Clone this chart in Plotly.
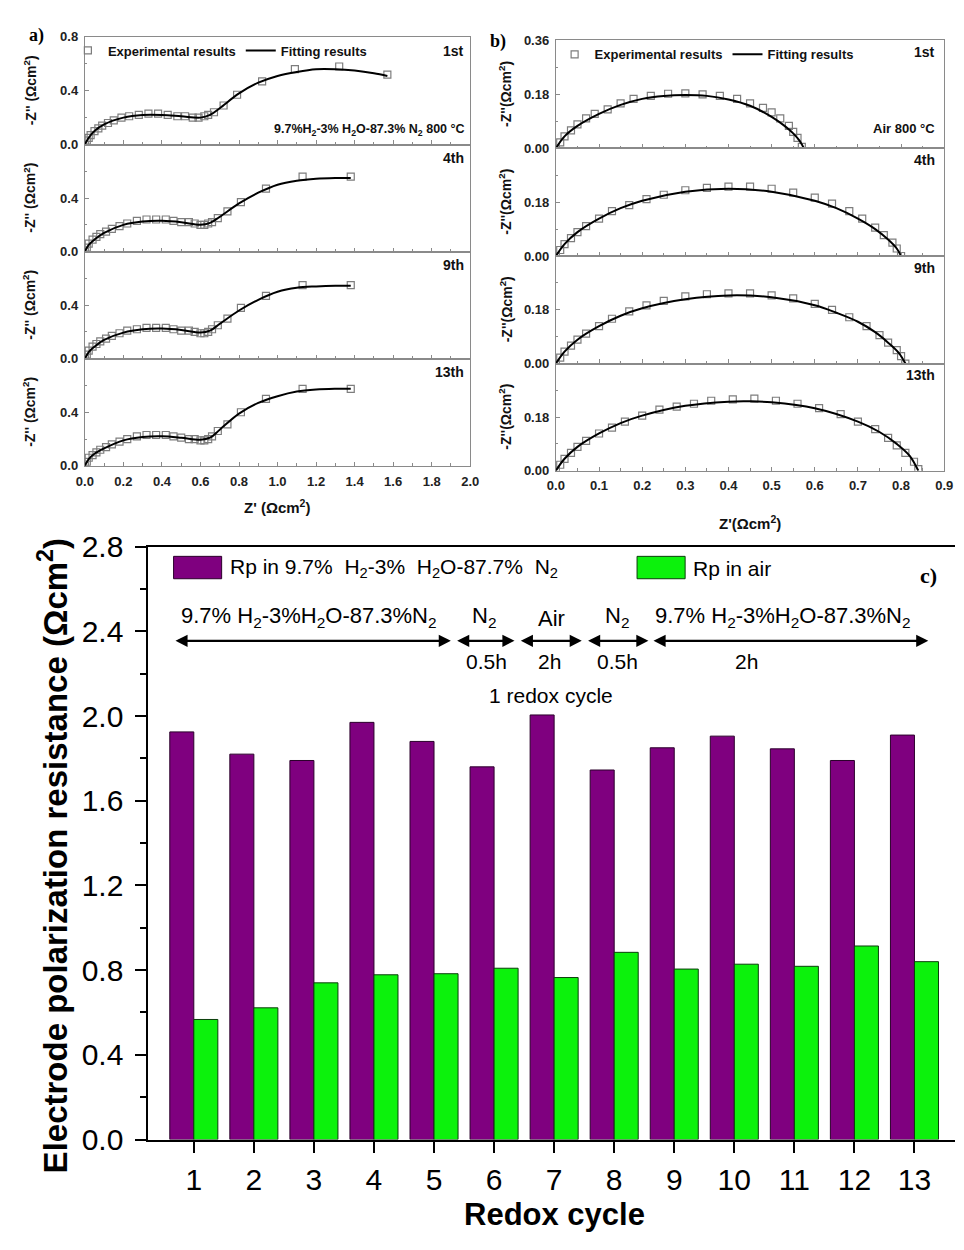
import plotly.graph_objects as go

W, H = 964, 1250
SANS = "Liberation Sans, Arial, sans-serif"
SERIF = "Liberation Serif, Times New Roman, serif"

# ---------------- panel c data ----------------
cycles = list(range(1, 14))
cycle_labels = [str(c) for c in cycles]
rp_h2 = [1.925, 1.82, 1.79, 1.97, 1.88, 1.76, 2.005, 1.745, 1.85, 1.905, 1.845, 1.79, 1.91]
rp_air = [0.567, 0.622, 0.74, 0.778, 0.783, 0.809, 0.765, 0.884, 0.805, 0.828, 0.818, 0.914, 0.84]
c_arrow_start = [0.67, 5.36, 6.42, 7.54, 8.63]
c_arrow_end = [5.28, 6.34, 7.46, 8.57, 13.23]
c_phase_labels = ["9.7% H<sub>2</sub>-3%H<sub>2</sub>O-87.3%N<sub>2</sub>", "N<sub>2</sub>", "Air",
                  "N<sub>2</sub>", "9.7% H<sub>2</sub>-3%H<sub>2</sub>O-87.3%N<sub>2</sub>"]
c_phase_x = [2.92, 5.84, 6.96, 8.05, 10.81]
c_dur_labels = ["0.5h", "2h", "0.5h", "2h"]
c_dur_x = [5.88, 6.92, 8.05, 10.21]

# ---------------- panel a data (Z', -Z'') ----------------
a_names = ["1st", "4th", "9th", "13th"]
a1_exp_x = [0.00, 0.01, 0.02, 0.03, 0.05, 0.07, 0.09, 0.12, 0.15, 0.19, 0.23, 0.28, 0.33, 0.38, 0.43, 0.48, 0.52, 0.56, 0.59, 0.62, 0.64, 0.67, 0.72, 0.79, 0.92, 1.09, 1.32, 1.57]
a1_exp_y = [0.00, 0.03, 0.05, 0.07, 0.10, 0.12, 0.14, 0.16, 0.18, 0.20, 0.21, 0.22, 0.23, 0.23, 0.22, 0.21, 0.21, 0.20, 0.20, 0.21, 0.22, 0.24, 0.29, 0.37, 0.47, 0.56, 0.58, 0.52]
a1_fit_x = [0, 0.02, 0.05, 0.1, 0.2, 0.3, 0.4, 0.5, 0.6, 0.65, 0.7, 0.8, 0.9, 1.0, 1.1, 1.2, 1.3, 1.4, 1.5, 1.57]
a1_fit_y = [0, 0.05, 0.10, 0.15, 0.20, 0.22, 0.22, 0.21, 0.20, 0.22, 0.27, 0.38, 0.46, 0.51, 0.54, 0.56, 0.56, 0.55, 0.53, 0.51]

a4_exp_x = [0.00, 0.01, 0.02, 0.04, 0.06, 0.08, 0.11, 0.14, 0.18, 0.22, 0.27, 0.32, 0.37, 0.42, 0.46, 0.50, 0.54, 0.57, 0.60, 0.62, 0.64, 0.66, 0.69, 0.74, 0.81, 0.94, 1.13, 1.38]
a4_exp_y = [0.00, 0.03, 0.06, 0.09, 0.11, 0.13, 0.15, 0.17, 0.19, 0.21, 0.23, 0.24, 0.24, 0.24, 0.23, 0.22, 0.22, 0.21, 0.20, 0.20, 0.21, 0.22, 0.25, 0.30, 0.37, 0.47, 0.56, 0.56]
a4_fit_x = [0, 0.02, 0.05, 0.1, 0.2, 0.3, 0.4, 0.5, 0.6, 0.65, 0.7, 0.8, 0.9, 1.0, 1.1, 1.2, 1.3, 1.38]
a4_fit_y = [0, 0.05, 0.09, 0.14, 0.20, 0.225, 0.23, 0.22, 0.20, 0.215, 0.26, 0.36, 0.44, 0.50, 0.53, 0.545, 0.55, 0.55]

a9_exp_x = [0.00, 0.01, 0.02, 0.04, 0.06, 0.08, 0.11, 0.14, 0.18, 0.22, 0.27, 0.32, 0.37, 0.42, 0.46, 0.50, 0.54, 0.57, 0.60, 0.62, 0.64, 0.66, 0.69, 0.74, 0.81, 0.94, 1.13, 1.38]
a9_exp_y = [0.00, 0.03, 0.06, 0.09, 0.11, 0.13, 0.15, 0.17, 0.19, 0.21, 0.22, 0.23, 0.23, 0.23, 0.22, 0.21, 0.21, 0.20, 0.19, 0.19, 0.20, 0.22, 0.25, 0.30, 0.38, 0.47, 0.55, 0.55]
a9_fit_x = [0, 0.02, 0.05, 0.1, 0.2, 0.3, 0.4, 0.5, 0.6, 0.65, 0.7, 0.8, 0.9, 1.0, 1.1, 1.2, 1.3, 1.38]
a9_fit_y = [0, 0.05, 0.09, 0.14, 0.195, 0.22, 0.225, 0.215, 0.195, 0.21, 0.26, 0.36, 0.44, 0.50, 0.53, 0.54, 0.545, 0.545]

a13_exp_x = [0.00, 0.01, 0.02, 0.04, 0.06, 0.08, 0.11, 0.14, 0.18, 0.22, 0.27, 0.32, 0.37, 0.42, 0.46, 0.50, 0.54, 0.57, 0.60, 0.62, 0.64, 0.66, 0.69, 0.74, 0.81, 0.94, 1.13, 1.38]
a13_exp_y = [0.00, 0.03, 0.06, 0.08, 0.10, 0.12, 0.14, 0.16, 0.18, 0.20, 0.22, 0.23, 0.23, 0.23, 0.22, 0.21, 0.20, 0.20, 0.19, 0.19, 0.20, 0.22, 0.26, 0.31, 0.40, 0.50, 0.575, 0.575]
a13_fit_x = [0, 0.02, 0.05, 0.1, 0.2, 0.3, 0.4, 0.5, 0.6, 0.65, 0.7, 0.8, 0.9, 1.0, 1.1, 1.2, 1.3, 1.38]
a13_fit_y = [0, 0.05, 0.09, 0.13, 0.19, 0.215, 0.22, 0.21, 0.195, 0.21, 0.27, 0.39, 0.47, 0.52, 0.555, 0.57, 0.575, 0.575]

# ---------------- panel b data (Z', -Z'') ----------------
b_names = ["1st", "4th", "9th", "13th"]
b1_exp_x = [0.00, 0.01, 0.02, 0.035, 0.05, 0.07, 0.09, 0.12, 0.15, 0.18, 0.22, 0.26, 0.30, 0.34, 0.38, 0.42, 0.45, 0.48, 0.50, 0.52, 0.54, 0.55, 0.56, 0.57]
b1_exp_y = [0.00, 0.02, 0.04, 0.06, 0.08, 0.10, 0.115, 0.13, 0.15, 0.165, 0.175, 0.182, 0.183, 0.18, 0.175, 0.165, 0.15, 0.135, 0.12, 0.10, 0.075, 0.055, 0.035, 0.005]
b1_fit_x = [0, 0.02, 0.05, 0.1, 0.15, 0.2, 0.25, 0.3, 0.35, 0.4, 0.45, 0.5, 0.53, 0.55, 0.565, 0.575]
b1_fit_y = [0, 0.04, 0.075, 0.115, 0.145, 0.165, 0.175, 0.178, 0.175, 0.163, 0.142, 0.105, 0.075, 0.05, 0.025, 0.0]

b4_exp_x = [0.00, 0.01, 0.02, 0.035, 0.05, 0.07, 0.10, 0.13, 0.17, 0.21, 0.25, 0.30, 0.35, 0.40, 0.45, 0.50, 0.55, 0.60, 0.64, 0.68, 0.71, 0.74, 0.76, 0.78, 0.79, 0.80]
b4_exp_y = [0.00, 0.02, 0.04, 0.06, 0.08, 0.10, 0.125, 0.15, 0.17, 0.19, 0.205, 0.22, 0.228, 0.232, 0.232, 0.225, 0.212, 0.195, 0.175, 0.15, 0.125, 0.095, 0.07, 0.045, 0.025, 0.0]
b4_fit_x = [0, 0.02, 0.05, 0.1, 0.15, 0.2, 0.3, 0.4, 0.5, 0.6, 0.65, 0.7, 0.74, 0.77, 0.79, 0.80]
b4_fit_y = [0, 0.04, 0.08, 0.125, 0.16, 0.185, 0.215, 0.225, 0.215, 0.185, 0.16, 0.125, 0.09, 0.055, 0.025, 0.0]

b9_exp_x = [0.00, 0.01, 0.02, 0.035, 0.05, 0.07, 0.10, 0.13, 0.17, 0.21, 0.25, 0.30, 0.35, 0.40, 0.45, 0.50, 0.55, 0.60, 0.64, 0.68, 0.72, 0.75, 0.77, 0.79, 0.80, 0.81]
b9_exp_y = [0.00, 0.02, 0.04, 0.06, 0.08, 0.10, 0.125, 0.15, 0.175, 0.195, 0.21, 0.225, 0.232, 0.235, 0.235, 0.228, 0.218, 0.20, 0.18, 0.155, 0.125, 0.095, 0.07, 0.045, 0.025, 0.0]
b9_fit_x = [0, 0.02, 0.05, 0.1, 0.15, 0.2, 0.3, 0.4, 0.5, 0.6, 0.65, 0.7, 0.74, 0.77, 0.795, 0.81]
b9_fit_y = [0, 0.04, 0.08, 0.125, 0.16, 0.185, 0.215, 0.228, 0.222, 0.195, 0.17, 0.14, 0.105, 0.07, 0.035, 0.0]

b13_exp_x = [0.00, 0.01, 0.02, 0.035, 0.05, 0.07, 0.10, 0.13, 0.16, 0.20, 0.24, 0.28, 0.32, 0.36, 0.41, 0.46, 0.51, 0.56, 0.61, 0.66, 0.70, 0.74, 0.77, 0.79, 0.81, 0.83, 0.84]
b13_exp_y = [0.00, 0.02, 0.04, 0.06, 0.08, 0.10, 0.125, 0.145, 0.165, 0.185, 0.205, 0.215, 0.225, 0.235, 0.24, 0.242, 0.235, 0.225, 0.21, 0.19, 0.165, 0.14, 0.11, 0.085, 0.06, 0.03, 0.005]
b13_fit_x = [0, 0.02, 0.05, 0.1, 0.15, 0.2, 0.3, 0.4, 0.45, 0.5, 0.6, 0.7, 0.75, 0.79, 0.82, 0.84]
b13_fit_y = [0, 0.04, 0.08, 0.125, 0.16, 0.185, 0.218, 0.232, 0.233, 0.23, 0.21, 0.165, 0.13, 0.09, 0.05, 0.0]

a_exp = [(a1_exp_x, a1_exp_y), (a4_exp_x, a4_exp_y), (a9_exp_x, a9_exp_y), (a13_exp_x, a13_exp_y)]
a_fit = [(a1_fit_x, a1_fit_y), (a4_fit_x, a4_fit_y), (a9_fit_x, a9_fit_y), (a13_fit_x, a13_fit_y)]
b_exp = [(b1_exp_x, b1_exp_y), (b4_exp_x, b4_exp_y), (b9_exp_x, b9_exp_y), (b13_exp_x, b13_exp_y)]
b_fit = [(b1_fit_x, b1_fit_y), (b4_fit_x, b4_fit_y), (b9_fit_x, b9_fit_y), (b13_fit_x, b13_fit_y)]


def px(x):
    return x / W


def py(y):
    return 1 - y / H


a_rows = [21.5, 132, 242, 352, 462]
b_rows = [25, 136, 246.5, 357, 467]
A_X = [77.3, 470]
B_X = [557.3, 953]

fig = go.Figure()
GRAY = "#8a8a8a"
MARK = dict(symbol="square-open", size=7, color="#7d7d7d", line=dict(width=1.2, color="#7d7d7d"))

for i in range(4):
    xa, ya = f"x{i + 1}", f"y{i + 1}"
    fig.add_trace(go.Scatter(x=a_exp[i][0], y=a_exp[i][1], mode="markers", marker=MARK,
                             name="Experimental results", xaxis=xa, yaxis=ya,
                             showlegend=(i == 0), legend="legend2"))
    fig.add_trace(go.Scatter(x=a_fit[i][0], y=a_fit[i][1], mode="lines",
                             line=dict(color="black", width=2, shape="spline"),
                             name="Fitting results", xaxis=xa, yaxis=ya,
                             showlegend=(i == 0), legend="legend2"))
for i in range(4):
    xa, ya = f"x{i + 5}", f"y{i + 5}"
    fig.add_trace(go.Scatter(x=b_exp[i][0], y=b_exp[i][1], mode="markers", marker=MARK,
                             name="Experimental results", xaxis=xa, yaxis=ya,
                             showlegend=(i == 0), legend="legend3"))
    fig.add_trace(go.Scatter(x=b_fit[i][0], y=b_fit[i][1], mode="lines",
                             line=dict(color="black", width=2, shape="spline"),
                             name="Fitting results", xaxis=xa, yaxis=ya,
                             showlegend=(i == 0), legend="legend3"))

fig.add_trace(go.Bar(x=cycles, y=rp_h2, width=0.4, offset=-0.4, name="Rp in H2",
                     marker=dict(color="#7f007f", line=dict(color="#2b002b", width=1)),
                     xaxis="x9", yaxis="y9", showlegend=False))
fig.add_trace(go.Bar(x=cycles, y=rp_air, width=0.4, offset=0, name="Rp in air",
                     marker=dict(color="#0cf20c", line=dict(color="#0b3d0b", width=1)),
                     xaxis="x9", yaxis="y9", showlegend=False))

small_tick = dict(family=SANS, size=13, color="#222", weight="bold")
base = dict(showline=True, linecolor=GRAY, linewidth=1.2, mirror=True, ticks="inside",
            ticklen=4, tickwidth=1, tickcolor=GRAY, showgrid=False, zeroline=False,
            tickfont=small_tick, ticklabelstandoff=3)

layout = {}
for i in range(4):
    n = i + 1
    layout[f"xaxis{n}"] = dict(base, domain=[px(A_X[0]), px(A_X[1])], range=[0, 2.0],
                               dtick=0.2, tick0=0, tickformat=".1f", anchor=f"y{n}",
                               showticklabels=(i == 3),
                               minor=dict(ticks="inside", ticklen=2.5, tickcolor=GRAY, dtick=0.1, tick0=0))
    layout[f"yaxis{n}"] = dict(base, domain=[py(a_rows[i + 1]), py(a_rows[i])], range=[0, 0.8],
                               tickvals=[0, 0.4, 0.8] if i == 0 else [0, 0.4],
                               ticktext=["0.0", "0.4", "0.8"] if i == 0 else ["0.0", "0.4"],
                               anchor=f"x{n}",
                               minor=dict(ticks="inside", ticklen=2.5, tickcolor=GRAY, dtick=0.2, tick0=0))
for i in range(4):
    n = i + 5
    layout[f"xaxis{n}"] = dict(base, domain=[px(B_X[0]), px(B_X[1])], range=[0, 0.9],
                               dtick=0.1, tick0=0, tickformat=".1f", anchor=f"y{n}",
                               showticklabels=(i == 3),
                               minor=dict(ticks="inside", ticklen=2.5, tickcolor=GRAY, dtick=0.05, tick0=0))
    layout[f"yaxis{n}"] = dict(base, domain=[py(b_rows[i + 1]), py(b_rows[i])], range=[0, 0.36],
                               tickvals=[0, 0.18, 0.36] if i == 0 else [0, 0.18],
                               ticktext=["0.00", "0.18", "0.36"] if i == 0 else ["0.00", "0.18"],
                               anchor=f"x{n}",
                               minor=dict(ticks="inside", ticklen=2.5, tickcolor=GRAY, dtick=0.09, tick0=0))

big_tick = dict(family=SANS, size=30, color="black")
layout["xaxis9"] = dict(domain=[px(142), 1.0], range=[0.243, 13.675], tickvals=cycles,
                        ticktext=cycle_labels, ticks="outside", ticklen=11, tickwidth=2,
                        tickcolor="black", showline=True, linewidth=2, linecolor="black",
                        mirror=True, showgrid=False, zeroline=False, tickfont=big_tick,
                        ticklabelstandoff=1, anchor="y9")
layout["yaxis9"] = dict(domain=[py(1154), py(545)], range=[0, 2.8], dtick=0.4, tick0=0,
                        tickformat=".1f", ticks="outside", ticklen=11, tickwidth=2,
                        tickcolor="black", showline=True, linewidth=2, linecolor="black",
                        showgrid=False, zeroline=False, tickfont=big_tick, anchor="x9",
                        ticklabelstandoff=6,
                        minor=dict(ticks="outside", ticklen=6, tickwidth=2, tickcolor="black",
                                   dtick=0.2, tick0=0))


def note(x, y, text, font, xanchor="center", yanchor="middle", **kw):
    d = dict(x=px(x), y=py(y), xref="paper", yref="paper", text=text, showarrow=False,
             xanchor=xanchor, yanchor=yanchor, font=font)
    d.update(kw)
    return d


ann = []
for s, e in zip(c_arrow_start, c_arrow_end):
    ann.append(dict(x=e, y=2.355, ax=s, ay=2.355, xref="x9", yref="y9", axref="x9", ayref="y9",
                    text="", showarrow=True, arrowhead=2, startarrowhead=2, arrowside="end+start",
                    arrowsize=1.1, startarrowsize=1.1, arrowwidth=2.2, arrowcolor="black"))
for t, x in zip(c_phase_labels, c_phase_x):
    ann.append(dict(x=x, y=2.39, xref="x9", yref="y9", text=t, showarrow=False,
                    xanchor="center", yanchor="bottom",
                    font=dict(family=SANS, size=22, color="black")))
for t, x in zip(c_dur_labels, c_dur_x):
    ann.append(dict(x=x, y=2.257, xref="x9", yref="y9", text=t, showarrow=False,
                    xanchor="center", yanchor="middle",
                    font=dict(family=SANS, size=21, color="black")))
ann.append(dict(x=6.94, y=2.097, xref="x9", yref="y9", text="1 redox cycle", showarrow=False,
                xanchor="center", yanchor="middle",
                font=dict(family=SANS, size=21, color="black")))

c_font = dict(family=SANS, size=21, color="black")
ann.append(note(223, 567, "Rp in 9.7%  H<sub>2</sub>-3%  H<sub>2</sub>O-87.7%  N<sub>2</sub>", c_font, xanchor="left"))
ann.append(note(695, 567, "Rp in air", c_font, xanchor="left"))
ann.append(note(937, 575, "c)", dict(family=SERIF, size=22, color="black", weight="bold")))

title_font = dict(family=SANS, size=31, color="black", weight="bold")
ann.append(note(45, 863, "Electrode polarization resistance (Ωcm<sup>2</sup>)", dict(title_font, size=33), textangle=-90))
ann.append(note(556, 1231, "Redox cycle", title_font))

lab_font = dict(family=SANS, size=14, color="#111", weight="bold")
num_font = dict(family=SANS, size=14, color="#111", weight="bold")
for i in range(4):
    ann.append(note(21, (a_rows[i] + a_rows[i + 1]) / 2, "-Z'' (Ωcm<sup>2</sup>)", lab_font, textangle=-90))
    ann.append(note(506, (b_rows[i] + b_rows[i + 1]) / 2, "-Z''(Ωcm<sup>2</sup>)", lab_font, textangle=-90))
    ann.append(note(466, a_rows[i] + 14, a_names[i], num_font, xanchor="right"))
    ann.append(note(946, b_rows[i] + 12, b_names[i], num_font, xanchor="right"))
ann.append(note(273, 504, "Z' (Ωcm<sup>2</sup>)", dict(lab_font, size=15)))
ann.append(note(755, 520, "Z'(Ωcm<sup>2</sup>)", dict(lab_font, size=15)))
ann.append(note(467, 117, "9.7%H<sub>2</sub>-3% H<sub>2</sub>O-87.3% N<sub>2</sub> 800 °C",
                dict(family=SANS, size=12.5, color="#111", weight="bold"), xanchor="right"))
ann.append(note(946, 116, "Air 800 °C", dict(family=SANS, size=13, color="#111", weight="bold"), xanchor="right"))
ann.append(note(28, 20, "a)", dict(family=SERIF, size=18, color="black", weight="bold")))
ann.append(note(498, 26, "b)", dict(family=SERIF, size=18, color="black", weight="bold")))

shapes = [
    dict(type="rect", xref="paper", yref="paper", x0=px(167.7), x1=px(216.7), y0=py(578), y1=py(555),
         fillcolor="#7f007f", line=dict(color="#2b002b", width=1)),
    dict(type="rect", xref="paper", yref="paper", x0=px(640), x1=px(689), y0=py(578), y1=py(555),
         fillcolor="#0cf20c", line=dict(color="#0b3d0b", width=1)),
]

leg_font = dict(family=SANS, size=13, color="#111", weight="bold")
layout.update(dict(
    width=W, height=H, margin=dict(l=0, r=0, t=0, b=0),
    paper_bgcolor="white", plot_bgcolor="white", barmode="overlay",
    showlegend=True, annotations=ann, shapes=shapes,
    legend2=dict(x=px(60), y=py(20), xanchor="left", yanchor="top", orientation="h",
                 font=leg_font, bgcolor="rgba(0,0,0,0)", itemwidth=30, tracegroupgap=0),
    legend3=dict(x=px(556), y=py(24), xanchor="left", yanchor="top", orientation="h",
                 font=leg_font, bgcolor="rgba(0,0,0,0)", itemwidth=30, tracegroupgap=0),
))
fig.update_layout(**layout)
fig.write_html("out.html")
